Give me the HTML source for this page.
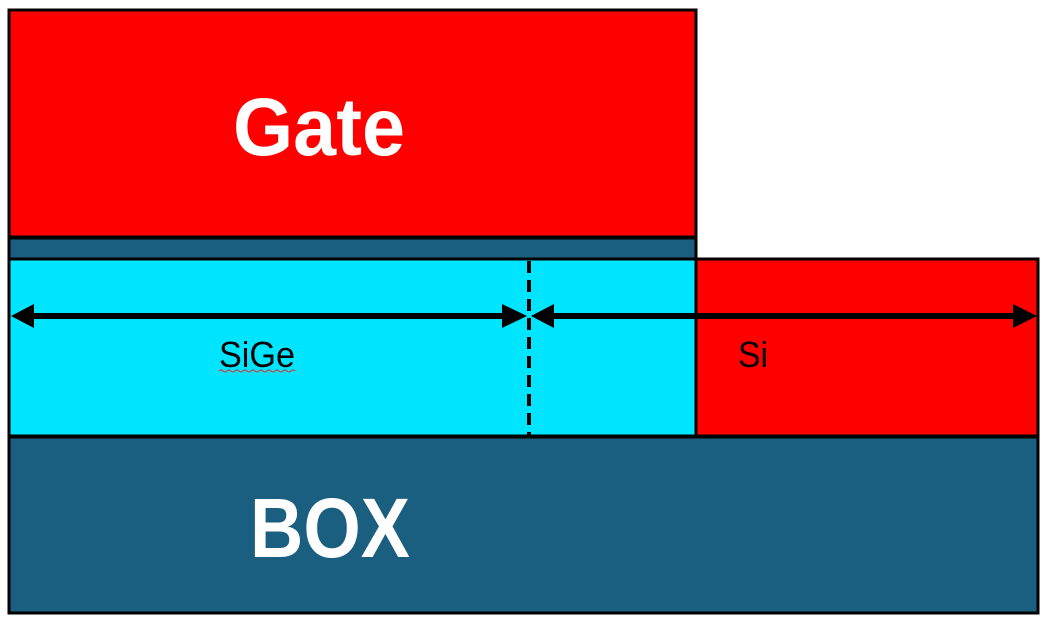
<!DOCTYPE html>
<html><head><meta charset="utf-8"><style>html,body{margin:0;padding:0;background:#fff}svg{display:block}</style></head>
<body>
<svg width="1047" height="625" viewBox="0 0 1047 625" xmlns="http://www.w3.org/2000/svg" font-family="Liberation Sans, sans-serif">
<rect x="0" y="0" width="1047" height="625" fill="#fff"/>
<rect x="9" y="10" width="687" height="227" fill="#ff0000" stroke="#000" stroke-width="3"/>
<rect x="9" y="238" width="687" height="21" fill="#1a5f80" stroke="#000" stroke-width="3"/>
<rect x="9" y="259" width="687" height="177" fill="#00e5ff" stroke="#000" stroke-width="3"/>
<rect x="696" y="259" width="342" height="177" fill="#ff0000" stroke="#000" stroke-width="3"/>
<rect x="9" y="437" width="1029" height="176" fill="#1a5f80" stroke="#000" stroke-width="3"/>
<line x1="529" y1="261" x2="529" y2="435" stroke="#000" stroke-width="4" stroke-dasharray="12,7"/>
<line x1="20" y1="316" x2="518" y2="316" stroke="#000" stroke-width="6"/>
<line x1="540" y1="316" x2="1026" y2="316" stroke="#000" stroke-width="6"/>
<polygon points="11,316 34,304 34,328" fill="#000"/>
<polygon points="527,316 502,304 502,328" fill="#000"/>
<polygon points="531,316 554,304 554,328" fill="#000"/>
<polygon points="1037,316 1013,304 1013,328" fill="#000"/>
<text x="233" y="155" font-size="82" font-weight="bold" fill="#fff" textLength="172" lengthAdjust="spacingAndGlyphs">Gate</text>
<text x="250" y="557" font-size="84" font-weight="bold" fill="#fff" textLength="160" lengthAdjust="spacingAndGlyphs">BOX</text>
<text x="219" y="367" font-size="36" fill="#000" textLength="76" lengthAdjust="spacingAndGlyphs">SiGe</text>
<path d="M219 371 q2 -2 4 0 t4 0 t4 0 t4 0 t4 0 t4 0 t4 0 t4 0 t4 0 t4 0 t4 0 t4 0 t4 0 t4 0 t4 0 t4 0 t4 0 t4 0 t4 0" fill="none" stroke="#d04040" stroke-width="1.2"/>
<text x="738" y="367" font-size="36" fill="#000" textLength="30" lengthAdjust="spacingAndGlyphs">Si</text>
</svg>
</body></html>
